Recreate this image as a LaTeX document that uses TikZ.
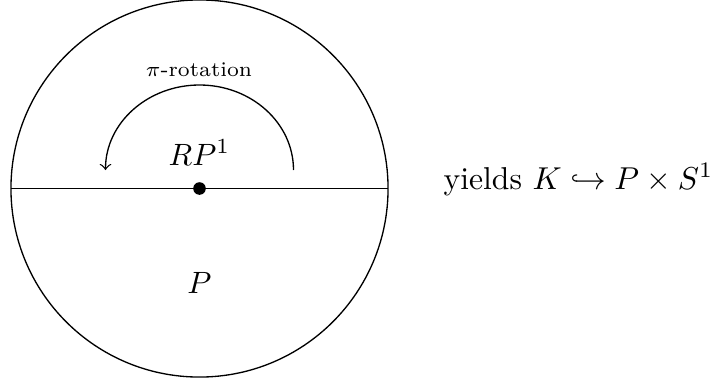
\documentclass[tikz,border=0pt]{standalone}
\usepackage{amssymb}
\begin{document}
\begin{tikzpicture}[x=0.3018pt,y=-0.3018pt,
  lbl/.style={inner sep=0pt,font=\normalsize,scale=0.93},
  big/.style={inner sep=0pt,font=\normalsize,scale=0.955},
  small/.style={inner sep=0pt,font=\scriptsize,scale=0.9},
  rot/.style={->}]
\useasboundingbox (0,0) rectangle (710,383);
\coordinate (c) at (199.5,188.5);
\coordinate (l) at (11,188.5);
\coordinate (r) at (388,188.5);
\draw (c) circle[radius=2cm];
\draw (l) -- (r);
\fill (c) circle[radius=1.9pt];
\coordinate (as) at (293.5,170);
\draw[rot] (as) arc[start angle=0, end angle=-180, x radius=94, y radius=85];
\node[small,anchor=base] (pirot) at (199,76.5) {$\pi$-rotation};
\node[lbl,anchor=base] (rp) at (199.5,165) {$RP^1$};
\node[lbl,anchor=base] (p) at (199.5,293) {$P$};
\node[big,anchor=base west] (y) at (443,189) {yields $K\hookrightarrow P\times S^1$};
\end{tikzpicture}
\end{document}
